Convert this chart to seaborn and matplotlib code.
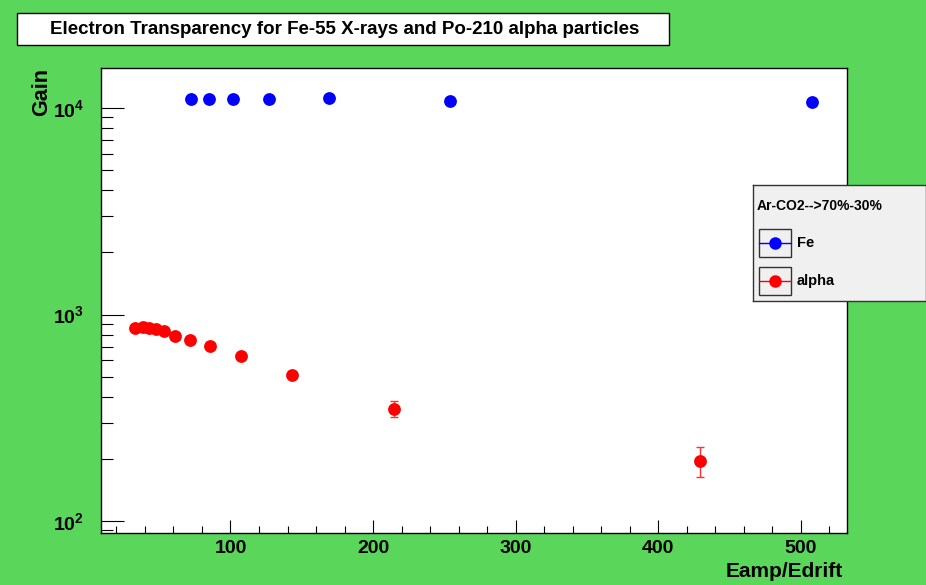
import matplotlib
matplotlib.use("Agg")
import matplotlib.pyplot as plt
from matplotlib.patches import Rectangle
from matplotlib.lines import Line2D
from matplotlib.ticker import FixedLocator, FuncFormatter, MultipleLocator, NullFormatter
import numpy as np
import pandas as pd
import seaborn as sns

# ---- data ----
fe_x = [72.6, 84.7, 101.6, 127.0, 169.3, 254.0, 508.0]
fe_gain = [11060, 11060, 11060, 11060, 11180, 10780, 10660]

alpha_x = [32.9, 39.0, 42.9, 47.7, 53.6, 61.3, 71.5, 85.8, 107.3, 143.0, 214.5, 429.0]
alpha_gain = [865, 869, 865, 850, 828, 789, 757, 705, 627, 511, 349, 196]
alpha_err = [0, 0, 0, 0, 0, 0, 0, 0, 0, 0, 31, 32]

title = "Electron Transparency for Fe-55 X-rays and Po-210 alpha particles"
legend_header = "Ar-CO2-->70%-30%"
series_names = ["Fe", "alpha"]
series_colors = ["#0000ff", "#ff0000"]
x_label = "Eamp/Edrift"
y_label = "Gain"

# ---- style ----
sns.set_theme(style="white")
plt.rcParams["font.family"] = ["Liberation Sans", "DejaVu Sans"]
plt.rcParams["font.weight"] = "bold"
plt.rcParams["text.color"] = "black"
plt.rcParams["axes.labelcolor"] = "black"
plt.rcParams["xtick.color"] = "black"
plt.rcParams["ytick.color"] = "black"
plt.rcParams["mathtext.fontset"] = "custom"
plt.rcParams["mathtext.rm"] = "Liberation Sans:bold"
plt.rcParams["mathtext.bf"] = "Liberation Sans:bold"
plt.rcParams["mathtext.it"] = "Liberation Sans:bold"
plt.rcParams["mathtext.default"] = "rm"

W, H = 926, 585
green = "#5ad65a"
fig = plt.figure(figsize=(W / 100, H / 100), dpi=100, facecolor=green)

def fx(px):
    return px / W

def fy(py):
    return 1 - py / H

ax_l, ax_r, ax_t, ax_b = 101, 847, 68, 533
ax = fig.add_axes([fx(ax_l), fy(ax_b), (ax_r - ax_l) / W, (ax_b - ax_t) / H])
ax.set_facecolor("white")

fe_df = pd.DataFrame({"x": fe_x, "gain": fe_gain})
al_df = pd.DataFrame({"x": alpha_x, "gain": alpha_gain, "err": alpha_err})

ax.errorbar(al_df["x"], al_df["gain"], yerr=al_df["err"], fmt="none",
            ecolor="#ff3030", elinewidth=1.0, capsize=2.6, capthick=1.0, zorder=2)
sns.scatterplot(data=fe_df, x="x", y="gain", ax=ax, color=series_colors[0],
                s=85, linewidth=0, zorder=3, legend=False)
sns.scatterplot(data=al_df, x="x", y="gain", ax=ax, color=series_colors[1],
                s=85, linewidth=0, zorder=3, legend=False)

ax.set_yscale("log")
ax.set_xlim(9.2, 532.3)
ax.set_ylim(87.5, 15630)

# ticks
ax.xaxis.set_major_locator(MultipleLocator(100))
ax.xaxis.set_minor_locator(MultipleLocator(20))
ax.yaxis.set_major_locator(FixedLocator([100, 1000, 10000]))
minors = [m * 10 ** k for k in range(1, 5) for m in range(2, 10)]
ax.yaxis.set_minor_locator(FixedLocator(minors))
ax.yaxis.set_minor_formatter(NullFormatter())
ax.yaxis.set_major_formatter(FuncFormatter(lambda v, p: r"$10^{%d}$" % int(round(np.log10(v)))))
ax.xaxis.set_major_formatter(FuncFormatter(lambda v, p: "%d" % v))

ax.tick_params(axis="x", which="major", direction="in", length=9.5, width=0.8,
               labelsize=14, pad=5, colors="black", bottom=True, top=False)
ax.tick_params(axis="x", which="minor", direction="in", length=5, width=0.8,
               bottom=True, top=False, colors="black")
ax.tick_params(axis="y", which="major", direction="in", length=16.5, width=0.8,
               labelsize=14, pad=12, colors="black", left=True, right=False)
ax.tick_params(axis="y", which="minor", direction="in", length=8.5, width=0.8,
               left=True, right=False, colors="black")
for lab in ax.get_xticklabels() + ax.get_yticklabels():
    lab.set_fontweight("bold")
    lab.set_color("black")

for s in ax.spines.values():
    s.set_color("black")
    s.set_linewidth(1.0)

ax.set_xlabel(x_label, fontsize=15, fontweight="bold", loc="right", color="black")
ax.xaxis.set_label_coords(0.9946, -0.062)
ax.set_ylabel(y_label, fontsize=15.5, fontweight="bold", loc="top", color="black")
ax.yaxis.set_label_coords(-0.065, 1.0)

# ---- title box ----
fig.patches.append(Rectangle((fx(17), fy(45)), (669 - 17) / W, (45 - 13) / H,
                             transform=fig.transFigure, facecolor="white",
                             edgecolor="black", linewidth=1.0, zorder=1))
fig.text(fx(345), fy(29.5), title, ha="center", va="center", fontsize=13.5,
         fontweight="bold", color="black")

# ---- legend box ----
lx0, lx1, ly0, ly1 = 753, 926, 185, 301
lax = fig.add_axes([fx(lx0), fy(ly1), (lx1 - lx0) / W, (ly1 - ly0) / H])
lax.set_facecolor("#f0f0f0")
lax.set_xlim(lx0, lx1)
lax.set_ylim(ly1, ly0)
lax.set_xticks([])
lax.set_yticks([])
for s in lax.spines.values():
    s.set_color("#333333")
    s.set_linewidth(1.0)
lax.text(757, 206, legend_header, ha="left", va="center", fontsize=10,
         fontweight="bold", color="black")
for i, (name, col) in enumerate(zip(series_names, series_colors)):
    yc = 243 + i * 38
    lax.add_patch(Rectangle((759, yc - 14), 32, 28, facecolor="none",
                            edgecolor="#333333", linewidth=1.0))
    lax.add_line(Line2D([759, 791], [yc, yc], color=col, linewidth=1.0))
    lax.plot([775], [yc], marker="o", markersize=9, color=col, markeredgewidth=0)
    lax.text(797, yc, name, ha="left", va="center", fontsize=10.5,
             fontweight="bold", color="black")

fig.savefig("out.png", dpi=100, facecolor=green)
